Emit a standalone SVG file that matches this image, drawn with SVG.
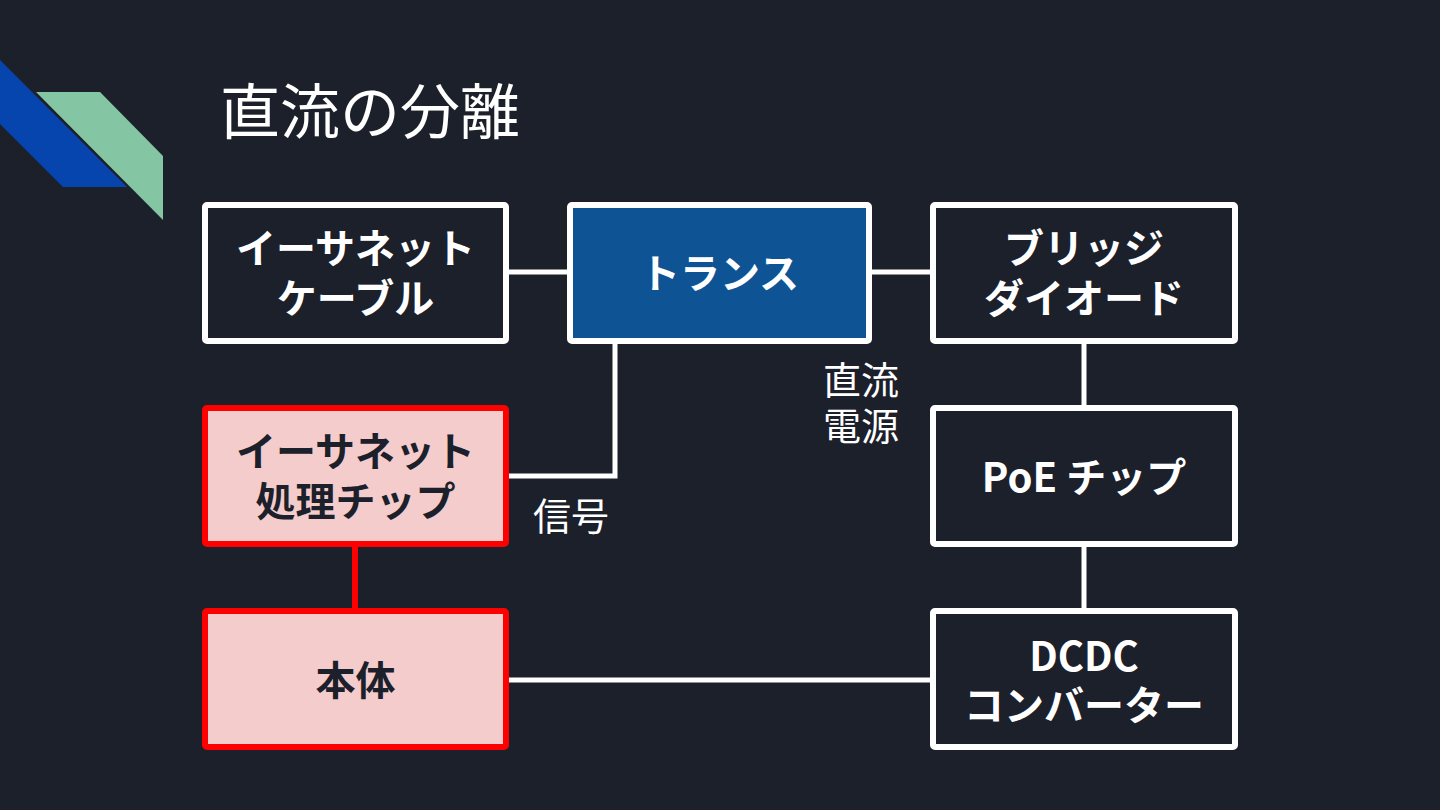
<svg xmlns="http://www.w3.org/2000/svg" width="1440" height="810" viewBox="0 0 1440 810">
<style>
.box{fill:#1c202b;stroke:#ffffff;stroke-width:6;}
.trans{fill:#0e5495;stroke:#ffffff;stroke-width:6;}
.red{fill:#f4cccc;stroke:#ff0000;stroke-width:6;}
.t{font-family:"Noto Sans CJK JP","Noto Sans",sans-serif;font-weight:bold;font-size:40px;fill:#ffffff;text-anchor:middle;}
.td{fill:#1c202b;}
.lbl{font-family:"Noto Sans CJK JP","Noto Sans",sans-serif;font-size:38px;fill:#ffffff;}
.c{stroke:#ffffff;stroke-width:5;fill:none;}
.cr{stroke:#ff0000;stroke-width:6;fill:none;}
</style>
<rect width="1440" height="810" fill="#1c202b"/>
<polygon points="0,60 127,187 63,187 0,124" fill="#0645ad"/>
<polygon points="36,92 100,92 163,156 163,220" fill="#84c6a4"/>
<text x="220" y="134" font-family="'Noto Sans CJK JP','Noto Sans',sans-serif" font-size="60" fill="#ffffff">直流の分離</text>
<g id="connectors">
<line class="c" x1="509" y1="272" x2="567" y2="272"/>
<line class="c" x1="872" y1="272" x2="930" y2="272"/>
<polyline class="c" points="615,344 615,476 509,476"/>
<line class="c" x1="1084" y1="344" x2="1084" y2="405"/>
<line class="c" x1="1084" y1="547" x2="1084" y2="608"/>
<line class="cr" x1="355" y1="547" x2="355" y2="608"/>
<line class="c" x1="509" y1="680" x2="930" y2="680"/>
</g>
<g id="cable"><rect class="box" x="205" y="205" width="301" height="136" rx="2"/>
<text class="t" x="355.5" y="263">イーサネット</text><text class="t" x="355.5" y="313">ケーブル</text></g>
<g id="trans"><rect class="trans" x="570" y="205" width="299" height="136" rx="2"/>
<text class="t" x="719.5" y="288">トランス</text></g>
<g id="bridge"><rect class="box" x="933" y="205" width="302" height="136" rx="2"/>
<text class="t" x="1084" y="263">ブリッジ</text><text class="t" x="1084" y="313">ダイオード</text></g>
<g id="chip"><rect class="red" x="205" y="408" width="301" height="136" rx="2"/>
<text class="t td" x="355.5" y="466">イーサネット</text><text class="t td" x="355.5" y="516">処理チップ</text></g>
<g id="poe"><rect class="box" x="933" y="408" width="302" height="136" rx="2"/>
<text class="t" x="1084" y="492">PoE チップ</text></g>
<g id="body"><rect class="red" x="205" y="611" width="301" height="136" rx="2"/>
<text class="t td" x="355.5" y="695">本体</text></g>
<g id="dcdc"><rect class="box" x="933" y="611" width="302" height="136" rx="2"/>
<text class="t" x="1084" y="671">DCDC</text><text class="t" x="1084" y="720">コンバーター</text></g>
<text class="lbl" x="823" y="394">直流</text>
<text class="lbl" x="823" y="440">電源</text>
<text class="lbl" x="533" y="530">信号</text>
</svg>
